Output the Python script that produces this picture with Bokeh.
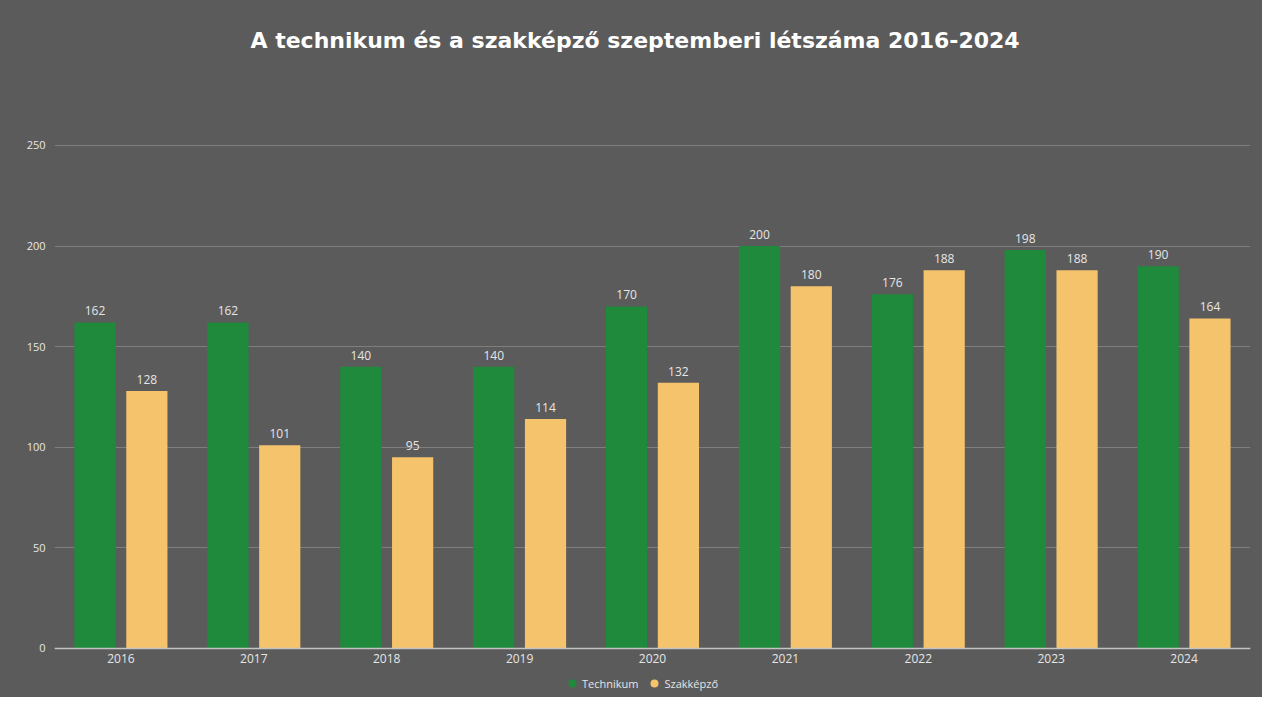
from bokeh.plotting import figure
from bokeh.models import ColumnDataSource, FixedTicker, Legend, LegendItem, Span
from bokeh.transform import dodge
from bokeh.core.properties import value
from bokeh.embed import file_html
from bokeh.resources import INLINE

years = ["2016", "2017", "2018", "2019", "2020", "2021", "2022", "2023", "2024"]
technikum = [162, 162, 140, 140, 170, 200, 176, 198, 190]
szakkepzo = [128, 101, 95, 114, 132, 180, 188, 188, 164]
y_ticks = [0, 50, 100, 150, 200, 250]

title_text = "A technikum és a szakképző szeptemberi létszáma 2016-2024"
series_names = ["Technikum", "Szakképző"]

GREEN = "#1f8a3b"
YELLOW = "#f6c36d"
BG = "#5b5b5b"
TXT = "#e6e6e6"
FONT = "Open Sans"

src = ColumnDataSource(dict(
    year=years, tech=technikum, szak=szakkepzo,
    base=[0] * len(years),
    tech_mid=[v / 2 for v in technikum], szak_mid=[v / 2 for v in szakkepzo],
    tech_lbl=[str(v) for v in technikum], szak_lbl=[str(v) for v in szakkepzo],
))

p = figure(x_range=years, y_range=(-22.4, 292.2), frame_width=1196, frame_height=633,
           output_backend="svg", toolbar_location=None,
           min_border_left=54, min_border_right=12, min_border_top=60, min_border_bottom=4)
p.styles = {"background-color": BG}

p.background_fill_color = BG
p.border_fill_color = BG
p.outline_line_color = None

p.title.text = title_text
p.title.align = "left"
p.title.offset = 196
p.title.standoff = 15
p.title.text_color = "#ffffff"
p.title.text_font = "DejaVu Sans"
p.title.text_font_size = "22px"
p.title.text_font_style = "bold"

# legend marker renderers (hidden behind the bars)
d1 = p.scatter(x=dodge("year", -0.195, range=p.x_range), y="tech_mid", source=src,
               marker="circle", size=9, fill_color=GREEN, line_color=None)
d2 = p.scatter(x=dodge("year", 0.195, range=p.x_range), y="szak_mid", source=src,
               marker="circle", size=9, fill_color=YELLOW, line_color=None)

r_tech = p.vbar(x=dodge("year", -0.195, range=p.x_range), top="tech", width=0.31,
                source=src, fill_color=GREEN, line_color=None)
r_szak = p.vbar(x=dodge("year", 0.195, range=p.x_range), top="szak", width=0.31,
                source=src, fill_color=YELLOW, line_color=None)

p.text(x=dodge("year", -0.195, range=p.x_range), y="tech", text="tech_lbl", source=src,
       text_align="center", text_baseline="bottom", y_offset=-7,
       text_color=TXT, text_font=value(FONT), text_font_size="12px")
p.text(x=dodge("year", 0.195, range=p.x_range), y="szak", text="szak_lbl", source=src,
       text_align="center", text_baseline="bottom", y_offset=-7,
       text_color=TXT, text_font=value(FONT), text_font_size="12px")

# category labels under the baseline
p.text(x="year", y="base", text="year", source=src,
       text_align="center", text_baseline="top", y_offset=6,
       text_color=TXT, text_font=value(FONT), text_font_size="12px")

p.add_layout(Span(location=0, dimension="width", line_color="#c4c4c4", line_width=1.5))

legend = Legend(items=[LegendItem(label=series_names[0], renderers=[d1], index=0),
                       LegendItem(label=series_names[1], renderers=[d2], index=0)],
                orientation="horizontal", location=(508, 0),
                background_fill_alpha=0, border_line_color=None,
                label_text_color=TXT, label_text_font=FONT, label_text_font_size="11px",
                glyph_width=20, glyph_height=20, label_standoff=-3, spacing=6,
                padding=0, margin=0)
p.add_layout(legend, "center")

p.xaxis.visible = False
p.xgrid.grid_line_color = None
p.ygrid.grid_line_color = "#a8a8a8"
p.ygrid.grid_line_alpha = 0.45
p.ygrid.ticker = FixedTicker(ticks=y_ticks)

p.yaxis.ticker = FixedTicker(ticks=y_ticks)
p.yaxis.axis_line_color = None
p.yaxis.major_tick_line_color = None
p.yaxis.minor_tick_line_color = None
p.yaxis.major_tick_out = 0
p.yaxis.major_tick_in = 0
p.yaxis.minor_tick_out = 0
p.yaxis.major_label_text_color = TXT
p.yaxis.major_label_text_font = FONT
p.yaxis.major_label_text_font_size = "11px"
p.yaxis.major_label_standoff = 9

open("out.html", "w").write(file_html(p, INLINE))
